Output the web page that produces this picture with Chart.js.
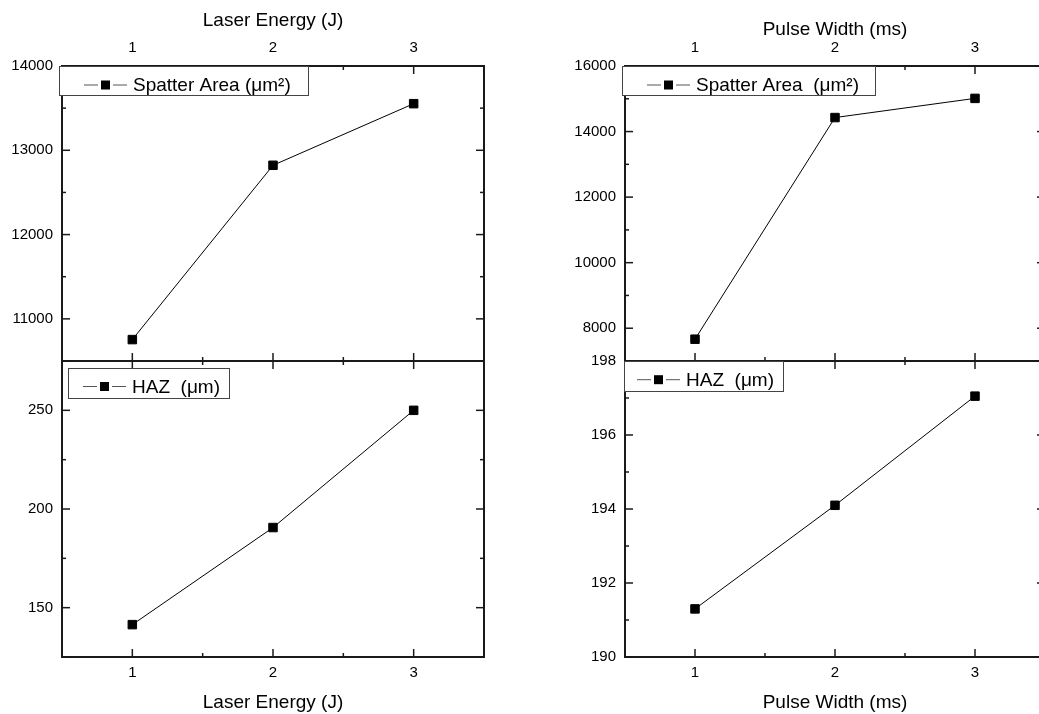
<!DOCTYPE html>
<html>
<head>
<meta charset="utf-8">
<script src="https://cdn.jsdelivr.net/npm/chart.js@4"></script>
<style>
  html, body { margin: 0; padding: 0; background: #fff; overflow: hidden; }
  body { width: 1039px; height: 714px; position: relative; }
  canvas { position: absolute; }
</style>
</head>
<body>
<canvas id="energyArea" width="520" height="381" style="left:0;top:0"></canvas>
<canvas id="energyHaz" width="520" height="373" style="left:0;top:341px"></canvas>
<canvas id="pulseArea" width="550" height="381" style="left:530px;top:0"></canvas>
<canvas id="pulseHaz" width="550" height="373" style="left:530px;top:341px"></canvas>
<script>
// ===== DATA =====
const xValues = [1, 2, 3];
const xTickLabels = [1, 2, 3];

const spatterByEnergy = [10754, 12822, 13553];
const hazByEnergy = [141.4, 190.6, 250.0];
const spatterByPulse = [7665, 14427, 15012];
const hazByPulse = [191.3, 194.1, 197.05];

const spatterEnergyTicks = [11000, 12000, 13000, 14000];
const hazEnergyTicks = [150, 200, 250];
const spatterPulseTicks = [8000, 10000, 12000, 14000, 16000];
const hazPulseTicks = [190, 192, 194, 196, 198];

const energyTitle = "Laser Energy (J)";
const pulseTitle = "Pulse Width (ms)";

Chart.defaults.font.family = "'Liberation Sans', Arial, sans-serif";
Chart.defaults.color = "#000";

const near = (list, v) => list.some((m) => Math.abs(m - v) < 1e-6);

// ===== inward ticks (major + minor) =====
const innerTicks = {
  id: "innerTicks",
  afterDatasetsDraw(chart, args, o) {
    const { ctx, chartArea: a } = chart;
    ctx.save();
    ctx.strokeStyle = "#1a1a1a";
    ctx.lineWidth = 1.5;
    Object.values(chart.scales).forEach((scale) => {
      const major = scale.axis === "x" ? o.xMajor : o.yMajor;
      scale.ticks.forEach((t) => {
        const len = near(major, t.value) ? 8 : 4;
        const p = scale.getPixelForValue(t.value);
        ctx.beginPath();
        if (scale.position === "left") { ctx.moveTo(a.left, p); ctx.lineTo(a.left + len, p); }
        if (scale.position === "right") { ctx.moveTo(a.right, p); ctx.lineTo(a.right - len, p); }
        if (scale.position === "top") { ctx.moveTo(p, a.top); ctx.lineTo(p, a.top + len); }
        if (scale.position === "bottom") { ctx.moveTo(p, a.bottom); ctx.lineTo(p, a.bottom - len); }
        ctx.stroke();
      });
    });
    ctx.restore();
  },
};

// ===== boxed legend inside the plot =====
const boxLegend = {
  id: "boxLegend",
  afterDraw(chart, args, o) {
    const { ctx, chartArea } = chart;
    const ds = chart.data.datasets[0];
    const x = chartArea.left + o.dx;
    const y = chartArea.top + o.dy;
    ctx.save();
    ctx.fillStyle = "#fff";
    ctx.fillRect(x, y + 1, o.w, o.h);
    ctx.strokeStyle = "#444";
    ctx.lineWidth = 1;
    ctx.strokeRect(Math.round(x) + 0.5, Math.round(y) + 0.5, o.w, o.h);
    const sx = x + o.sym;
    const sy = y + o.base - 6;
    ctx.strokeStyle = "#555";
    ctx.beginPath();
    ctx.moveTo(sx, sy); ctx.lineTo(sx + 14, sy);
    ctx.moveTo(sx + 29, sy); ctx.lineTo(sx + 43, sy);
    ctx.stroke();
    ctx.fillStyle = "#000";
    ctx.fillRect(sx + 17, sy - 4.5, 9, 9);
    ctx.font = "19px 'Liberation Sans', Arial, sans-serif";
    ctx.textBaseline = "alphabetic";
    ctx.fillText(ds.label, sx + 49, y + o.base);
    ctx.restore();
  },
};

function panel(id, cfg) {
  const top = cfg.row === "top";
  const tickFont = { size: 15 };
  const titleFont = { size: 19 };
  const border = { color: "#1a1a1a", width: 2 };
  const grid = { drawOnChartArea: false, drawTicks: false };
  const fixed = (prop, val) => (scale) => { scale[prop] = val; };
  const xLabel = (v) => (near(xTickLabels, v) ? v : "");
  const yLabel = (v) => (near(cfg.yMajor, v) ? v : "");

  return new Chart(document.getElementById(id), {
    type: "line",
    data: {
      datasets: [
        {
          label: cfg.label,
          data: xValues.map((x, i) => ({ x, y: cfg.values[i] })),
          xAxisID: "x",
          yAxisID: "y",
          borderColor: "#000",
          borderWidth: 1,
          pointStyle: "rect",
          pointRadius: 6,
          pointBackgroundColor: "#000",
          pointBorderColor: "#000",
          pointBorderWidth: 1,
        },
      ],
    },
    options: {
      responsive: false,
      animation: false,
      events: [],
      layout: { padding: { left: 0, right: cfg.padRight, top: top ? 0 : 20, bottom: top ? 20 : 0 } },
      plugins: {
        legend: { display: false },
        tooltip: { enabled: false },
        innerTicks: { xMajor: xTickLabels, yMajor: cfg.yMajor },
        boxLegend: cfg.legend,
      },
      scales: {
        x: {
          type: "linear", position: "bottom", min: 0.5, max: 3.5,
          ticks: { display: !top, stepSize: 0.5, padding: 7, font: tickFont, autoSkip: false, maxRotation: 0, callback: xLabel },
          title: { display: !top, text: cfg.xTitle, font: titleFont, padding: { top: 0, bottom: 0 } },
          grid, border,
          afterFit: fixed("height", top ? 0 : 57),
        },
        x2: {
          type: "linear", position: "top", min: 0.5, max: 3.5,
          ticks: { display: top, stepSize: 0.5, padding: 9, font: tickFont, autoSkip: false, maxRotation: 0, callback: xLabel },
          title: { display: top, text: cfg.xTitle, font: titleFont, padding: { top: cfg.titlePad || 0, bottom: 0 } },
          grid, border,
          afterFit: fixed("height", top ? 66 : 0),
        },
        y: {
          type: "linear", position: "left", min: cfg.yMin, max: cfg.yMax,
          ticks: { stepSize: cfg.yStep, padding: 9, font: tickFont, autoSkip: false, callback: yLabel },
          grid, border,
          afterFit: fixed("width", cfg.yWidth),
        },
        y2: {
          type: "linear", position: "right", min: cfg.yMin, max: cfg.yMax,
          ticks: { display: false, stepSize: cfg.yStep, autoSkip: false },
          grid, border,
          afterFit: fixed("width", 0),
        },
      },
    },
    plugins: [innerTicks, boxLegend],
  });
}

panel("energyArea", {
  row: "top", label: "Spatter Area (μm²)", values: spatterByEnergy, xTitle: energyTitle, titlePad: 9,
  yMin: 10500, yMax: 14000, yStep: 500, yMajor: spatterEnergyTicks, yWidth: 62, padRight: 36,
  legend: { dx: -3, dy: 0, w: 249, h: 29, sym: 25, base: 25 },
});
panel("energyHaz", {
  row: "bottom", label: "HAZ  (μm)", values: hazByEnergy, xTitle: energyTitle,
  yMin: 125, yMax: 275, yStep: 25, yMajor: hazEnergyTicks, yWidth: 62, padRight: 36,
  legend: { dx: 6, dy: 7, w: 161, h: 30, sym: 15, base: 24.5 },
});
panel("pulseArea", {
  row: "top", label: "Spatter Area  (μm²)", values: spatterByPulse, xTitle: pulseTitle, titlePad: 18,
  yMin: 7000, yMax: 16000, yStep: 1000, yMajor: spatterPulseTicks, yWidth: 95, padRight: 35,
  legend: { dx: -3, dy: 0, w: 253, h: 29, sym: 25, base: 25 },
});
panel("pulseHaz", {
  row: "bottom", label: "HAZ  (μm)", values: hazByPulse, xTitle: pulseTitle,
  yMin: 190, yMax: 198, yStep: 1, yMajor: hazPulseTicks, yWidth: 95, padRight: 35,
  legend: { dx: -1, dy: 0, w: 159, h: 30, sym: 13, base: 24.7 },
});
</script>
</body>
</html>
